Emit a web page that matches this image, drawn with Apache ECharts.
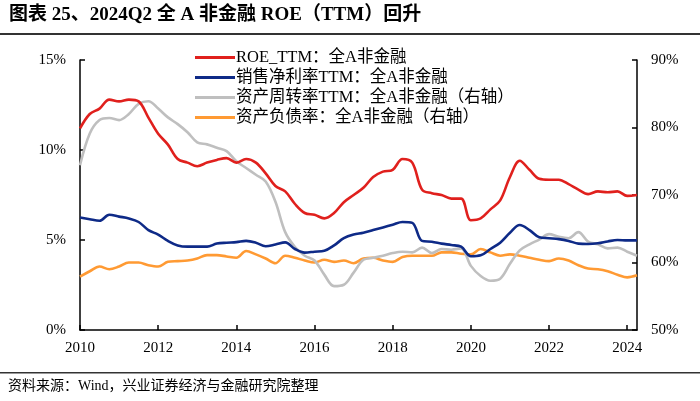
<!DOCTYPE html>
<html><head><meta charset="utf-8">
<script src="https://cdn.jsdelivr.net/npm/echarts@6/dist/echarts.min.js"></script>
<style>html,body{margin:0;padding:0;background:#fff}#c{width:700px;height:401px}</style>
</head><body><div id="c"></div>
<script>
var quarters = ['2010Q1','2010Q2','2010Q3','2010Q4','2011Q1','2011Q2','2011Q3','2011Q4',
'2012Q1','2012Q2','2012Q3','2012Q4','2013Q1','2013Q2','2013Q3','2013Q4',
'2014Q1','2014Q2','2014Q3','2014Q4','2015Q1','2015Q2','2015Q3','2015Q4',
'2016Q1','2016Q2','2016Q3','2016Q4','2017Q1','2017Q2','2017Q3','2017Q4',
'2018Q1','2018Q2','2018Q3','2018Q4','2019Q1','2019Q2','2019Q3','2019Q4',
'2020Q1','2020Q2','2020Q3','2020Q4','2021Q1','2021Q2','2021Q3','2021Q4',
'2022Q1','2022Q2','2022Q3','2022Q4','2023Q1','2023Q2','2023Q3','2023Q4',
'2024Q1','2024Q2'];
var roe = [11.2,12.0,12.3,12.8,12.7,12.8,12.7,11.8,10.9,10.3,9.5,9.3,9.1,9.3,9.45,9.55,
9.3,9.5,9.3,8.7,8.0,7.7,7.0,6.5,6.4,6.2,6.5,7.1,7.5,7.9,8.5,8.8,
8.9,9.5,9.3,7.8,7.6,7.5,7.3,7.3,6.1,6.2,6.7,7.2,8.5,9.4,8.9,8.4,
8.35,8.35,8.1,7.8,7.55,7.7,7.65,7.7,7.45,7.5];
var netMargin = [6.25,6.15,6.07,6.4,6.3,6.2,6.0,5.55,5.3,4.95,4.7,4.63,4.63,4.63,4.8,4.85,
4.88,4.95,4.85,4.65,4.75,4.87,4.5,4.3,4.35,4.4,4.7,5.1,5.3,5.4,5.55,5.7,
5.85,6.0,5.95,4.95,4.9,4.8,4.72,4.63,4.1,4.15,4.5,4.85,5.4,5.83,5.55,5.15,
5.1,5.05,4.95,4.8,4.78,4.82,4.92,5.0,4.98,4.98];
var turnover = [74.4,79.1,81.1,81.4,81.1,82.0,83.5,83.9,82.8,81.5,80.5,79.3,77.8,77.5,77.0,76.5,
75.0,74.0,73.0,72.0,69.0,64.5,62.3,61.0,60.3,58.2,56.5,56.7,58.5,60.4,60.7,61.0,
61.4,61.6,61.5,62.2,61.4,62.0,61.9,62.1,59.5,58.0,57.3,57.6,59.8,61.8,62.7,63.4,
64.2,63.8,63.6,64.5,63.1,62.7,62.1,62.2,61.6,61.0];
var debtRatio = [57.9,58.7,59.4,59.0,59.4,60.0,60.0,59.6,59.4,60.1,60.2,60.3,60.6,61.1,61.1,60.9,
60.7,61.7,61.2,60.6,59.9,61.0,60.7,60.3,60.0,60.4,60.1,60.3,59.9,60.6,60.7,60.3,
60.1,60.8,61.0,61.0,61.0,61.5,61.5,61.3,61.2,62.0,61.5,61.0,61.2,61.0,60.7,60.4,
60.2,60.6,60.3,59.6,59.1,59.0,58.7,58.2,57.8,58.1];
var seriesNames = ['ROE_TTM：全A非金融','销售净利率TTM：全A非金融','资产周转率TTM：全A非金融（右轴）','资产负债率：全A非金融（右轴）'];
var leftTicks = [0,5,10,15];
var rightTicks = [50,60,70,80,90];
var titleText = '图表 25、2024Q2 全 A 非金融 ROE（TTM）回升';
var sourceText = '资料来源：Wind，兴业证券经济与金融研究院整理';

var FONT = '"Liberation Serif","Times New Roman","Noto Sans CJK SC",serif';
var chart = echarts.init(document.getElementById('c'));
var axisLine = {show:true, lineStyle:{color:'#000', width:1.5}};
var axisTick = {show:true, inside:true, length:5, lineStyle:{color:'#000', width:1.5}};
function mk(name, data, color, yi, z){
  return {name:name, type:'line', data:data, yAxisIndex:yi, smooth:0.35, symbol:'none',
    lineStyle:{color:color, width:2.6}, itemStyle:{color:color}, z:z};
}
chart.setOption({
  animation:false,
  backgroundColor:'#fff',
  grid:{left:80, right:63, top:60, bottom:71},
  legend:{orient:'vertical', left:190, top:44, itemWidth:40, itemHeight:12, itemGap:3,
    icon:'path://M0,0 L40,0 L40,3 L0,3 Z',
    textStyle:{fontFamily:FONT, fontSize:16.5, lineHeight:17, color:'#000', padding:[0,0,0,-4]},
    data:seriesNames},
  xAxis:{type:'category', data:quarters, boundaryGap:false,
    axisLine:axisLine,
    axisTick:{show:true, inside:true, length:5, lineStyle:{color:'#000', width:1.5},
      interval:function(i){return i%8===0;}},
    axisLabel:{interval:function(i){return i%8===0;}, formatter:function(v){return v.slice(0,4);},
      fontFamily:FONT, fontSize:15, color:'#000', margin:11},
    splitLine:{show:false}},
  yAxis:[
    {type:'value', min:leftTicks[0], max:leftTicks[leftTicks.length-1], interval:5,
     axisLine:axisLine, axisTick:axisTick, splitLine:{show:false},
     axisLabel:{formatter:'{value}%', fontFamily:FONT, fontSize:15, color:'#000', margin:14}},
    {type:'value', min:rightTicks[0], max:rightTicks[rightTicks.length-1], interval:10, position:'right',
     axisLine:axisLine, axisTick:axisTick, splitLine:{show:false},
     axisLabel:{formatter:'{value}%', fontFamily:FONT, fontSize:15, color:'#000', margin:14}}
  ],
  series:[
    mk(seriesNames[0], roe, '#e0201d', 0, 4),
    mk(seriesNames[1], netMargin, '#0e2a87', 0, 3),
    mk(seriesNames[2], turnover, '#bfbfbf', 1, 2),
    mk(seriesNames[3], debtRatio, '#ff9a33', 1, 1)
  ],
  graphic:[
    {type:'text', left:9, top:6, style:{text:titleText, font:'bold 19px "Liberation Serif","Noto Sans CJK SC",serif', fill:'#000'}},
    {type:'rect', shape:{x:0, y:33, width:700, height:2}, style:{fill:'#333'}},
    {type:'rect', shape:{x:0, y:372, width:700, height:1.5}, style:{fill:'#333'}},
    {type:'text', left:8, top:379, style:{text:sourceText, font:'14px "Liberation Serif","Noto Sans CJK SC",serif', fill:'#000'}}
  ]
});
</script></body></html>
